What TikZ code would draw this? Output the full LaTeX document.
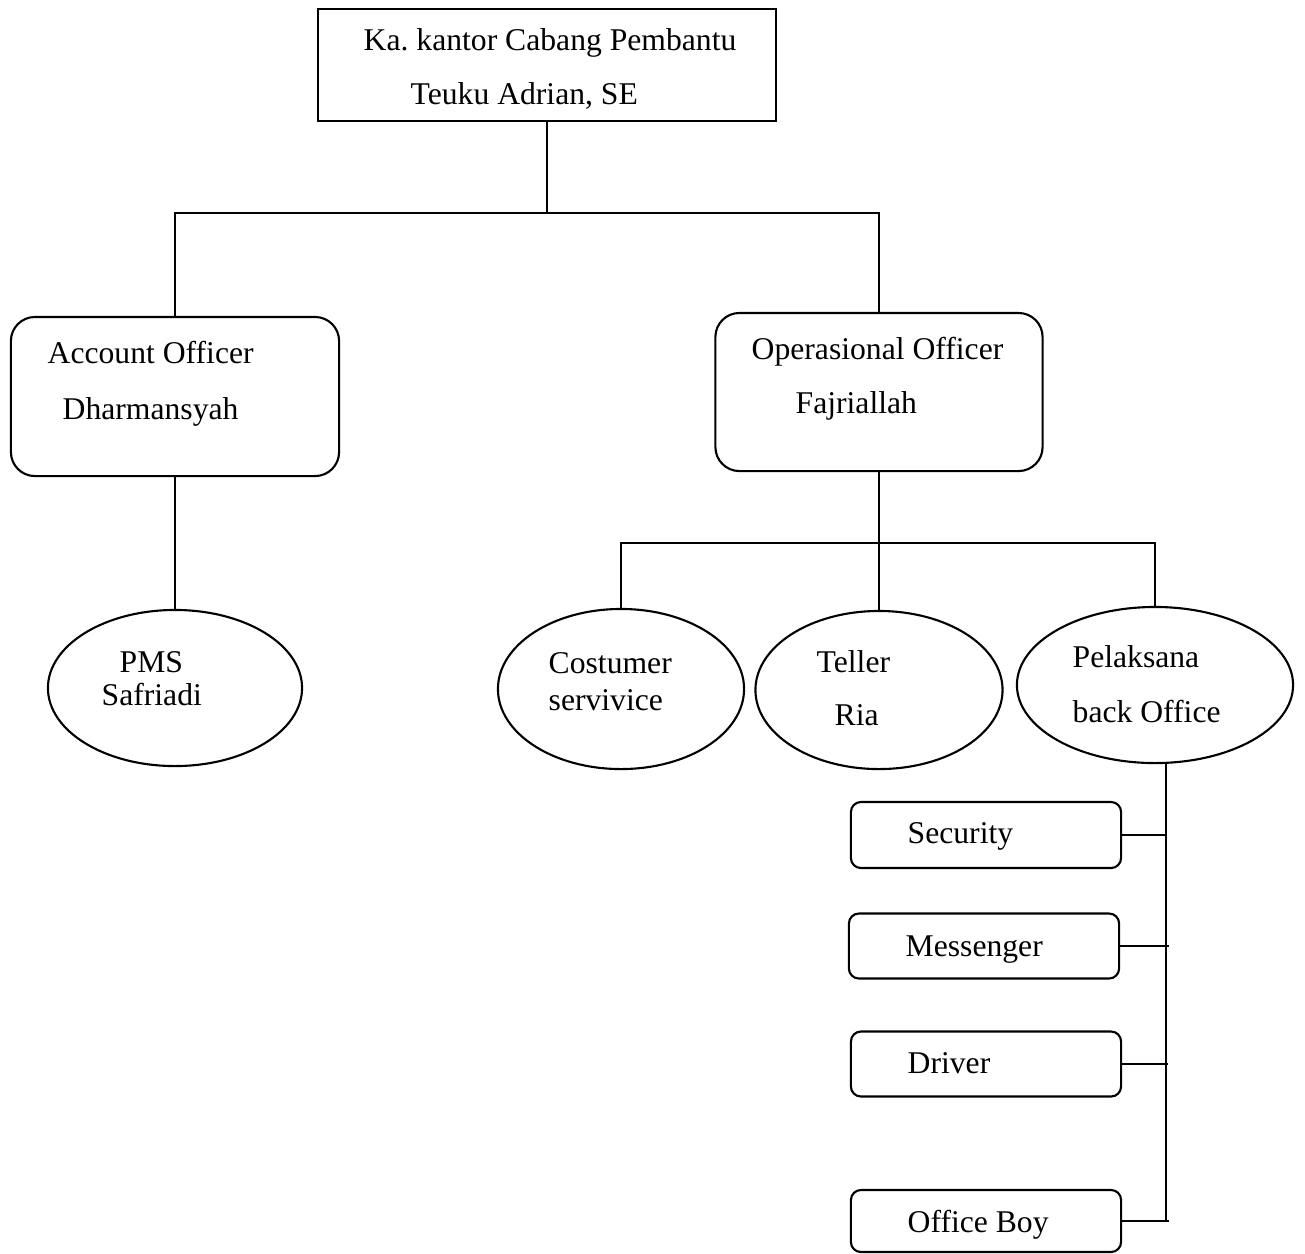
\documentclass[tikz,border=0pt]{standalone}
\usepackage{fontspec}
\setmainfont{Liberation Serif}
\usetikzlibrary{shapes.geometric}
\tikzset{
    box/.style={draw, line width=0.6pt, inner sep=0pt, outer sep=0pt},
    roundbox/.style={box, rounded corners=0.24cm},
    smallbox/.style={box, rounded corners=0.1cm, minimum width=2.7cm, minimum height=0.65cm},
    oval/.style={box, ellipse},
    txt/.style={anchor=base west, inner sep=0pt, font=\fontsize{9}{11}\selectfont},
    link/.style={line width=0.6pt}
}
\frenchspacing
\begin{document}
\begin{tikzpicture}[x=0.01cm, y=-0.01cm]
    \useasboundingbox (0,0) rectangle (1305,1253);
    % shapes
    \node [box, minimum width=4.58cm, minimum height=1.12cm] (kacab) at (547,65) {};
    \node [roundbox, minimum width=3.28cm, minimum height=1.59cm] (ao) at (175,396.5) {};
    \node [roundbox, minimum width=3.27cm, minimum height=1.58cm] (oo) at (879,392) {};
    \node [oval, minimum width=2.54cm, minimum height=1.56cm] (pms) at (175,688) {};
    \node [oval, minimum width=2.46cm, minimum height=1.60cm] (cs) at (621,689) {};
    \node [oval, minimum width=2.47cm, minimum height=1.58cm] (teller) at (879,690) {};
    \node [oval, minimum width=2.76cm, minimum height=1.56cm] (bo) at (1155,685) {};
    \node [smallbox, minimum height=0.66cm] (security) at (986,835) {};
    \node [smallbox] (messenger) at (984,946) {};
    \node [smallbox] (driver) at (986,1064) {};
    \node [smallbox, minimum height=0.62cm] (officeboy) at (986,1221) {};
    % texts
    \node [txt] (kacab1) at (363,50) {Ka. kantor Cabang Pembantu};
    \node [txt] (kacab2) at (410,104) {Teuku Adrian, SE};
    \node [txt] (ao1) at (47,363) {Account Officer};
    \node [txt] (ao2) at (62,419) {Dharmansyah};
    \node [txt] (oo1) at (751,359) {Operasional Officer};
    \node [txt] (oo2) at (795,413) {Fajriallah};
    \node [txt] (pms1) at (119,672) {PMS};
    \node [txt] (pms2) at (101,705) {Safriadi};
    \node [txt] (cs1) at (548,673) {Costumer};
    \node [txt] (cs2) at (548,710) {servivice};
    \node [txt] (teller1) at (816,672) {Teller};
    \node [txt] (teller2) at (834,725) {Ria};
    \node [txt] (bo1) at (1072,667) {Pelaksana};
    \node [txt] (bo2) at (1072,722) {back Office};
    \node [txt] (security1) at (907,843) {Security};
    \node [txt] (messenger1) at (905,956) {Messenger};
    \node [txt] (driver1) at (907,1073) {Driver};
    \node [txt] (officeboy1) at (907,1232) {Office Boy};
    % connectors
    \coordinate (j1) at (547,213);
    \coordinate (j2) at (879,543);
    \coordinate (bt) at (1166,763);
    \draw [link] (kacab.south) -- (j1);
    \draw [link] (ao.north) |- (j1) -| (oo.north);
    \draw [link] (ao.south) -- (pms.north);
    \draw [link] (oo.south) -- (teller.north);
    \draw [link] (cs.north) |- (j2) -| (bo.north);
    \draw [link] (bt) -- (bt |- officeboy.east);
    \draw [link] (security.east) -- (security.east -| bt);
    \draw [link] (messenger.east) -- ([xshift=0.03cm]messenger.east -| bt);
    \draw [link] (driver.east) -- ([xshift=0.02cm]driver.east -| bt);
    \draw [link] (officeboy.east) -- ([xshift=0.03cm]officeboy.east -| bt);
\end{tikzpicture}
\end{document}
